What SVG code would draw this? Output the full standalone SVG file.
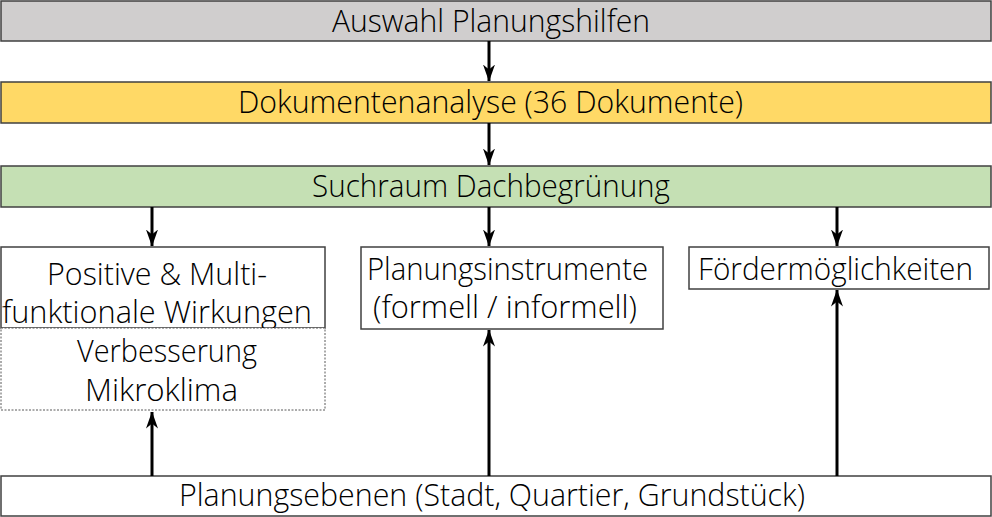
<svg xmlns="http://www.w3.org/2000/svg" width="992" height="517" viewBox="0 0 992 517">
<style>
  .box { stroke: #404040; stroke-width: 1.5; }
  .t { font-family: "Open Sans", "Liberation Sans", sans-serif; font-weight: 300; font-size: 31px; fill: #000; }
  .c { stroke: #000; stroke-width: 3; fill: none; }
</style>
<defs>
  <marker id="ah" viewBox="0 0 17 12" refX="16.5" refY="6" markerWidth="17" markerHeight="12" markerUnits="userSpaceOnUse" orient="auto">
    <path d="M0,0 L17,6 L0,12 L5,6 Z" fill="#000"/>
  </marker>
</defs>
<rect width="992" height="517" fill="#fff"/>
<g id="auswahl">
  <rect class="box" x="1" y="1" width="990" height="40" fill="#d0cece"/>
  <text class="t" x="332" y="32" textLength="318" lengthAdjust="spacingAndGlyphs">Auswahl Planungshilfen</text>
</g>
<g id="dokumentenanalyse">
  <rect class="box" x="1" y="82" width="990" height="41" fill="#ffd966"/>
  <text class="t" x="238" y="113" textLength="505" lengthAdjust="spacingAndGlyphs">Dokumentenanalyse (36 Dokumente)</text>
</g>
<g id="suchraum">
  <rect class="box" x="1" y="166" width="990" height="41" fill="#c5e0b4"/>
  <text class="t" x="312" y="197" textLength="358" lengthAdjust="spacingAndGlyphs">Suchraum Dachbegrünung</text>
</g>
<g id="wirkungen">
  <rect class="box" x="1" y="247" width="324" height="81" fill="#fff"/>
  <text class="t" x="47" y="285" textLength="220" lengthAdjust="spacingAndGlyphs">Positive &amp; Multi-</text>
  <text class="t" x="2" y="323" textLength="310" lengthAdjust="spacingAndGlyphs">funktionale Wirkungen</text>
</g>
<g id="mikroklima">
  <rect x="1" y="328" width="324" height="82" fill="#fff" stroke="#595959" stroke-width="1" stroke-dasharray="2,1.5"/>
  <text class="t" x="77" y="362" textLength="180" lengthAdjust="spacingAndGlyphs">Verbesserung</text>
  <text class="t" x="85" y="401" textLength="153" lengthAdjust="spacingAndGlyphs">Mikroklima</text>
</g>
<g id="instrumente">
  <rect class="box" x="361" y="247" width="302" height="82" fill="#fff"/>
  <text class="t" x="367" y="280" textLength="281" lengthAdjust="spacingAndGlyphs">Planungsinstrumente</text>
  <text class="t" x="373" y="318" textLength="264" lengthAdjust="spacingAndGlyphs">(formell / informell)</text>
</g>
<g id="foerder">
  <rect class="box" x="689" y="247" width="300" height="42" fill="#fff"/>
  <text class="t" x="698" y="280" textLength="275" lengthAdjust="spacingAndGlyphs">Fördermöglichkeiten</text>
</g>
<g id="ebenen">
  <rect class="box" x="1" y="476" width="990" height="40" fill="#fff"/>
  <text class="t" x="179" y="506" textLength="626" lengthAdjust="spacingAndGlyphs">Planungsebenen (Stadt, Quartier, Grundstück)</text>
</g>
<g id="connectors">
  <path class="c" d="M489,41 L489,81" marker-end="url(#ah)"/>
  <path class="c" d="M489,123 L489,165" marker-end="url(#ah)"/>
  <path class="c" d="M152,207 L152,246" marker-end="url(#ah)"/>
  <path class="c" d="M489,207 L489,246" marker-end="url(#ah)"/>
  <path class="c" d="M837,207 L837,246" marker-end="url(#ah)"/>
  <path class="c" d="M152,476 L152,412" marker-end="url(#ah)"/>
  <path class="c" d="M489,476 L489,330" marker-end="url(#ah)"/>
  <path class="c" d="M837,476 L837,290" marker-end="url(#ah)"/>
</g>
</svg>
